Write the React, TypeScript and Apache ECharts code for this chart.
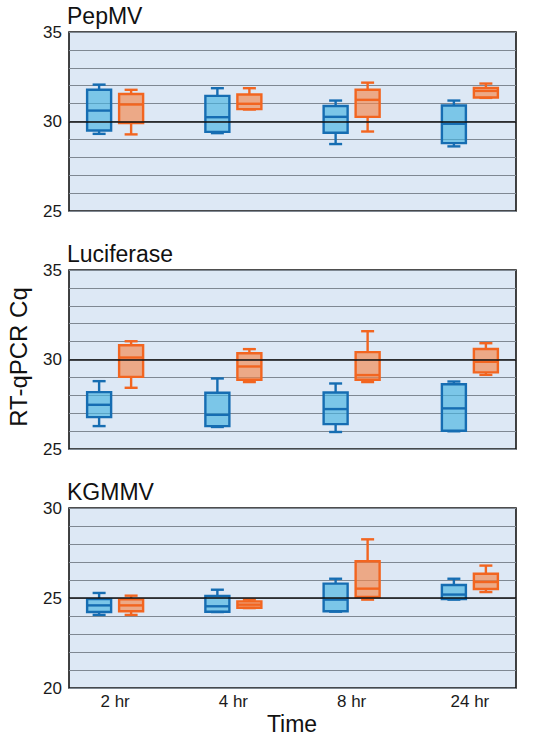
import React, { useEffect, useRef } from 'react';
import * as echarts from 'echarts';

const categories = ['2 hr', '4 hr', '8 hr', '24 hr'];
const panelTitles = ['PepMV', 'Luciferase', 'KGMMV'];
const yMins = [25, 25, 20];
const yMaxs = [35, 35, 30];
const refValues = [30, 30, 25];

// [min, Q1, median, Q3, max] per time point
const pepmvBlue = [
  [29.31, 29.5, 30.61, 31.77, 32.06],
  [29.35, 29.42, 30.24, 31.43, 31.86],
  [28.74, 29.37, 30.26, 30.87, 31.17],
  [28.61, 28.79, 29.87, 30.89, 31.17],
];
const pepmvOrange = [
  [29.28, 29.91, 30.95, 31.54, 31.77],
  [30.67, 30.69, 30.99, 31.51, 31.86],
  [29.44, 30.26, 31.21, 31.77, 32.17],
  [31.32, 31.34, 31.71, 31.88, 32.12],
];
const lucBlue = [
  [26.28, 26.78, 27.47, 28.18, 28.79],
  [26.23, 26.28, 26.91, 28.14, 28.94],
  [25.95, 26.39, 27.23, 28.16, 28.66],
  [25.99, 26.02, 27.27, 28.62, 28.77],
];
const lucOrange = [
  [28.42, 29.03, 30.11, 30.8, 31.02],
  [28.74, 28.87, 29.61, 30.35, 30.58],
  [28.74, 28.87, 29.13, 30.41, 31.58],
  [29.14, 29.28, 29.87, 30.59, 30.91],
];
const kgBlue = [
  [24.06, 24.22, 24.59, 24.94, 25.28],
  [24.22, 24.24, 24.54, 25.11, 25.46],
  [24.24, 24.26, 24.91, 25.8, 26.07],
  [24.91, 24.94, 25.19, 25.72, 26.07],
];
const kgOrange = [
  [24.06, 24.26, 24.59, 24.93, 25.13],
  [24.44, 24.46, 24.63, 24.81, 24.91],
  [24.91, 25.06, 25.52, 27.04, 28.26],
  [25.33, 25.5, 25.89, 26.35, 26.8],
];

const blueSets = [pepmvBlue, lucBlue, kgBlue];
const orangeSets = [pepmvOrange, lucOrange, kgOrange];

const FONT = "'Liberation Sans', Arial, Helvetica, sans-serif";
const gridTops = [32, 270, 508];
const gridHeights = [179, 179, 180];

const BLUE_STROKE = '#166db2';
const BLUE_FILL = 'rgba(70,180,225,0.65)';
const ORANGE_STROKE = '#f26520';
const ORANGE_FILL = 'rgba(245,135,75,0.65)';

function makeRender(offset: number, stroke: string, fill: string) {
  return (params: any, api: any) => {
    const x = api.value(0);
    const mn = api.value(1);
    const q1 = api.value(2);
    const md = api.value(3);
    const q3 = api.value(4);
    const mx = api.value(5);
    const cx = api.coord([x, md])[0] + offset;
    const y = (v: number) => api.coord([x, v])[1];
    const hw = 12;
    const cw = 6.5;
    const lw = 2.4;
    const ls = { stroke, lineWidth: lw, fill: 'none' };
    return {
      type: 'group',
      children: [
        { type: 'line', shape: { x1: cx, y1: y(q3), x2: cx, y2: y(mx) }, style: ls },
        { type: 'line', shape: { x1: cx, y1: y(q1), x2: cx, y2: y(mn) }, style: ls },
        { type: 'line', shape: { x1: cx - cw, y1: y(mx), x2: cx + cw, y2: y(mx) }, style: ls },
        { type: 'line', shape: { x1: cx - cw, y1: y(mn), x2: cx + cw, y2: y(mn) }, style: ls },
        {
          type: 'rect',
          shape: { x: cx - hw, y: y(q3), width: 2 * hw, height: y(q1) - y(q3) },
          style: { fill, stroke, lineWidth: lw },
        },
        { type: 'line', shape: { x1: cx - hw, y1: y(md), x2: cx + hw, y2: y(md) }, style: ls },
      ],
    };
  };
}

export default function App() {
  const ref = useRef<HTMLDivElement>(null);
  useEffect(() => {
    if (!ref.current) return;
    const chart = echarts.init(ref.current, undefined, { renderer: 'svg' });
    const grid: any[] = [];
    const xAxis: any[] = [];
    const yAxis: any[] = [];
    const series: any[] = [];
    const title: any[] = [];
    for (let p = 0; p < 3; p++) {
      grid.push({
        left: 69,
        right: 34,
        top: gridTops[p],
        height: gridHeights[p],
        show: true,
        backgroundColor: '#dde8f5',
        borderColor: '#141414',
        borderWidth: 1.6,
      });
      xAxis.push({
        type: 'value',
        gridIndex: p,
        min: 0.61,
        max: 4.39,
        axisLine: { show: false },
        axisTick: { show: false },
        splitLine: { show: false },
        axisLabel: {
          show: p === 2,
          customValues: [1, 2, 3, 4],
          formatter: (v: number) => categories[Math.round(v) - 1] || '',
          fontSize: 17,
          color: '#1a1a1a',
          fontFamily: FONT,
          margin: 5,
        },
      });
      yAxis.push({
        type: 'value',
        gridIndex: p,
        min: yMins[p],
        max: yMaxs[p],
        interval: 1,
        axisLine: { show: false },
        axisTick: { show: false },
        splitLine: { show: true, lineStyle: { color: '#7f8892', width: 1.1 } },
        axisLabel: {
          formatter: (v: number) => (v % 5 === 0 ? String(v) : ''),
          fontSize: 17,
          color: '#1a1a1a',
          fontFamily: FONT,
          margin: 7,
        },
      });
      title.push({
        text: panelTitles[p],
        left: 67,
        top: gridTops[p] - 28,
        padding: 0,
        textStyle: { fontSize: 23, fontWeight: 'normal', color: '#111', fontFamily: FONT },
      });
      series.push({
        type: 'line',
        xAxisIndex: p,
        yAxisIndex: p,
        data: [],
        z: 1,
        markLine: {
          silent: true,
          symbol: 'none',
          label: { show: false },
          lineStyle: { color: '#111', width: 1.6, type: 'solid' },
          data: [{ yAxis: refValues[p] }],
        },
      });
      series.push({
        type: 'custom',
        xAxisIndex: p,
        yAxisIndex: p,
        z: 3,
        encode: { x: 0, y: [1, 2, 3, 4, 5] },
        data: blueSets[p].map((r, i) => [i + 1, ...r]),
        renderItem: makeRender(-16, BLUE_STROKE, BLUE_FILL),
      });
      series.push({
        type: 'custom',
        xAxisIndex: p,
        yAxisIndex: p,
        z: 3,
        encode: { x: 0, y: [1, 2, 3, 4, 5] },
        data: orangeSets[p].map((r, i) => [i + 1, ...r]),
        renderItem: makeRender(16, ORANGE_STROKE, ORANGE_FILL),
      });
    }
    chart.setOption({
      animation: false,
      backgroundColor: '#ffffff',
      textStyle: { fontFamily: FONT },
      title,
      grid,
      xAxis,
      yAxis,
      series,
      graphic: [
        {
          type: 'text',
          x: 18,
          y: 357,
          rotation: Math.PI / 2,
          style: {
            text: 'RT-qPCR Cq',
            fontSize: 24,
            fill: '#111',
            align: 'center',
            verticalAlign: 'middle',
            fontFamily: FONT,
          },
        },
        {
          type: 'text',
          x: 292,
          y: 724,
          style: {
            text: 'Time',
            fontSize: 23,
            fill: '#111',
            align: 'center',
            verticalAlign: 'middle',
            fontFamily: FONT,
          },
        },
      ],
    });
    return () => chart.dispose();
  }, []);
  return (
    <div
      ref={ref}
      style={{ position: 'absolute', left: 0, top: 0, width: 550, height: 740 }}
    />
  );
}
